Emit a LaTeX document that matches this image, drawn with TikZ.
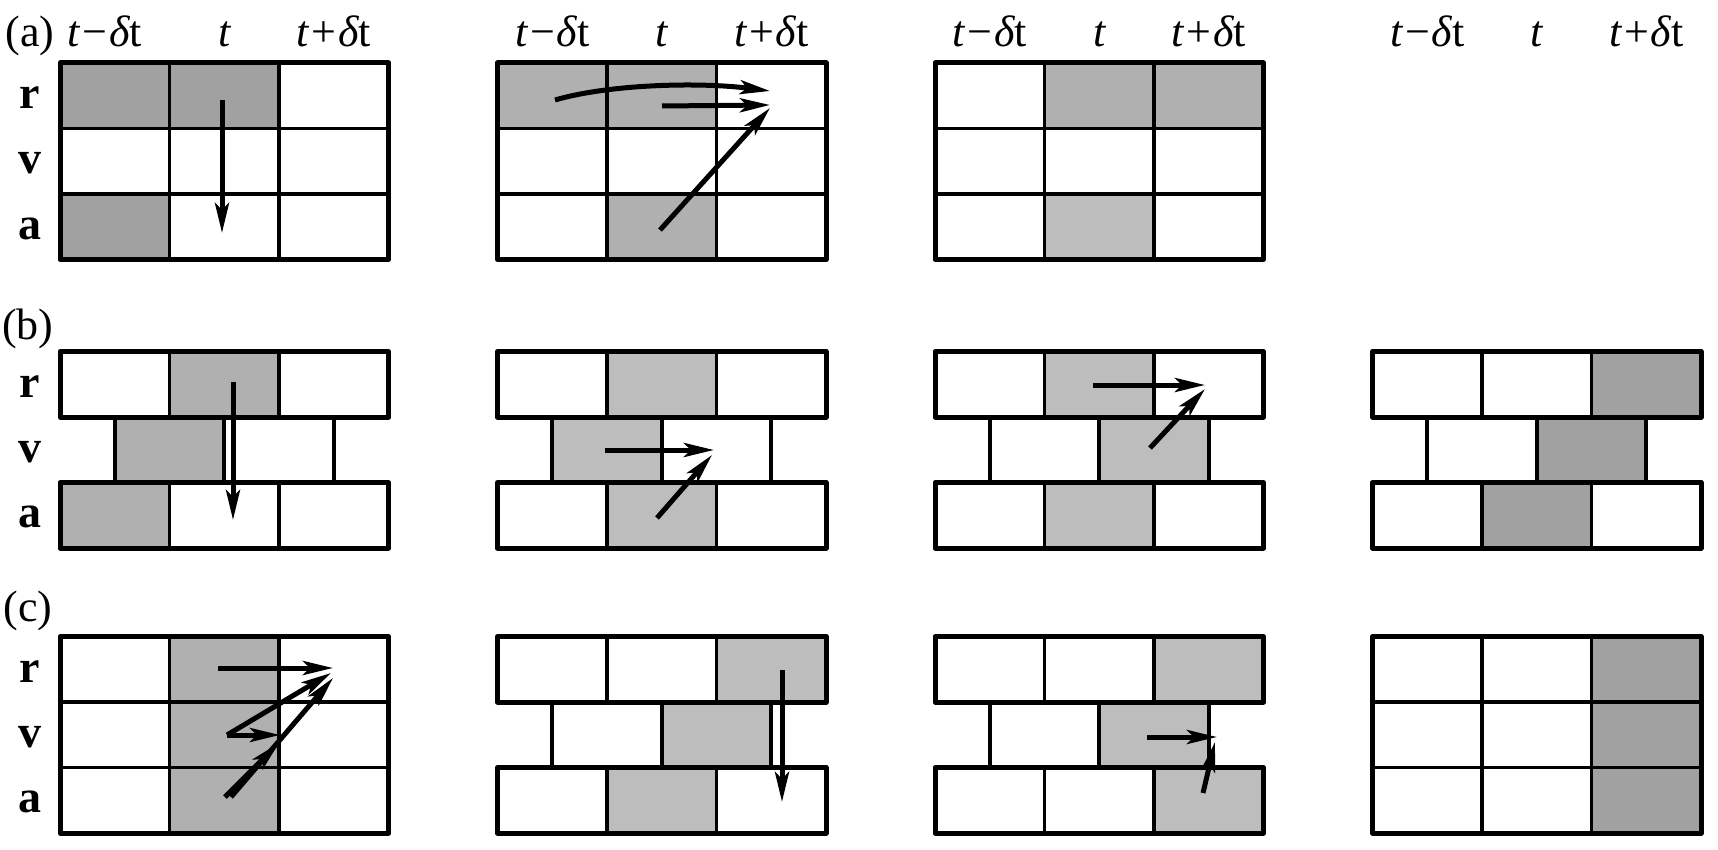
\documentclass[tikz,border=0pt]{standalone}
\usepackage{fontspec}
\setmainfont{Liberation Serif}
\usetikzlibrary{arrows.meta}
\definecolor{shadeD}{gray}{0.63}
\definecolor{shadeM}{gray}{0.69}
\definecolor{shadeL}{gray}{0.74}
\def\cellW{109.5}
\def\rowH{65.5}
\tikzset{
 gridout/.style={line width=5pt, line join=round},
 gridin/.style={line width=3.8pt},
 flow/.style={line width=5pt, -{Stealth[length=30pt,width=14pt,inset=7pt]}},
 hdr/.style={font=\fontsize{44}{50}\selectfont, anchor=base, inner sep=0pt},
 rowlab/.style={font=\fontsize{46}{50}\selectfont\bfseries, inner sep=0pt},
 panellab/.style={font=\fontsize{44}{50}\selectfont, anchor=base, inner sep=0pt},
}
\newcommand{\cellfill}[5]{\fill[#5] ({#1+#3*\cellW},{#2+#4*\rowH}) rectangle ({#1+(#3+1)*\cellW},{#2+(#4+1)*\rowH});}
\newcommand{\fullgrid}[2]{%
 \draw[gridin] ({#1+\cellW},{#2}) -- ({#1+\cellW},{#2+3*\rowH});
 \draw[gridin] ({#1+2*\cellW},{#2}) -- ({#1+2*\cellW},{#2+3*\rowH});
 \draw[gridin] ({#1},{#2+\rowH}) -- ({#1+3*\cellW},{#2+\rowH});
 \draw[gridin] ({#1},{#2+2*\rowH}) -- ({#1+3*\cellW},{#2+2*\rowH});
 \draw[gridout] ({#1},{#2}) rectangle ({#1+3*\cellW},{#2+3*\rowH});
}
\newcommand{\brickgrid}[2]{%
 \draw[gridin] ({#1+\cellW},{#2}) -- ({#1+\cellW},{#2+\rowH});
 \draw[gridin] ({#1+2*\cellW},{#2}) -- ({#1+2*\cellW},{#2+\rowH});
 \draw[gridin] ({#1+\cellW},{#2+2*\rowH}) -- ({#1+\cellW},{#2+3*\rowH});
 \draw[gridin] ({#1+2*\cellW},{#2+2*\rowH}) -- ({#1+2*\cellW},{#2+3*\rowH});
 \draw[gridin] ({#1+0.5*\cellW},{#2+\rowH}) -- ({#1+0.5*\cellW},{#2+2*\rowH});
 \draw[gridin] ({#1+1.5*\cellW},{#2+\rowH}) -- ({#1+1.5*\cellW},{#2+2*\rowH});
 \draw[gridin] ({#1+2.5*\cellW},{#2+\rowH}) -- ({#1+2.5*\cellW},{#2+2*\rowH});
 \draw[gridout] ({#1},{#2}) rectangle ({#1+3*\cellW},{#2+\rowH});
 \draw[gridout] ({#1},{#2+2*\rowH}) rectangle ({#1+3*\cellW},{#2+3*\rowH});
}
\newcommand{\tmd}{{\itshape t}\hspace{0.06em}−\hspace{0.04em}{\itshape δ}t}
\newcommand{\tpd}{{\itshape t}\hspace{0.06em}+\hspace{0.04em}{\itshape δ}t}
\begin{document}
\begin{tikzpicture}[x=1pt,y=-1pt]
\useasboundingbox (0,0) rectangle (1718,850);
\def\yA{63}\def\yB{351.5}\def\yC{636.5}
\def\xP{60}\def\xQ{497.5}\def\xR{935}\def\xS{1372.5}
% ---------- fills ----------
% (a)
\cellfill{\xP}{\yA}{0}{0}{shadeD}\cellfill{\xP}{\yA}{1}{0}{shadeD}\cellfill{\xP}{\yA}{0}{2}{shadeD}
\cellfill{\xQ}{\yA}{0}{0}{shadeM}\cellfill{\xQ}{\yA}{1}{0}{shadeM}\cellfill{\xQ}{\yA}{1}{2}{shadeM}
\cellfill{\xR}{\yA}{1}{0}{shadeM}\cellfill{\xR}{\yA}{2}{0}{shadeM}\cellfill{\xR}{\yA}{1}{2}{shadeL}
% (b)
\cellfill{\xP}{\yB}{1}{0}{shadeM}\cellfill{\xP}{\yB}{0.5}{1}{shadeM}\cellfill{\xP}{\yB}{0}{2}{shadeM}
\cellfill{\xQ}{\yB}{1}{0}{shadeL}\cellfill{\xQ}{\yB}{0.5}{1}{shadeL}\cellfill{\xQ}{\yB}{1}{2}{shadeL}
\cellfill{\xR}{\yB}{1}{0}{shadeL}\cellfill{\xR}{\yB}{1.5}{1}{shadeL}\cellfill{\xR}{\yB}{1}{2}{shadeL}
\cellfill{\xS}{\yB}{2}{0}{shadeD}\cellfill{\xS}{\yB}{1.5}{1}{shadeD}\cellfill{\xS}{\yB}{1}{2}{shadeD}
% (c)
\cellfill{\xP}{\yC}{1}{0}{shadeM}\cellfill{\xP}{\yC}{1}{1}{shadeM}\cellfill{\xP}{\yC}{1}{2}{shadeM}
\cellfill{\xQ}{\yC}{2}{0}{shadeL}\cellfill{\xQ}{\yC}{1.5}{1}{shadeL}\cellfill{\xQ}{\yC}{1}{2}{shadeL}
\cellfill{\xR}{\yC}{2}{0}{shadeL}\cellfill{\xR}{\yC}{1.5}{1}{shadeL}\cellfill{\xR}{\yC}{2}{2}{shadeL}
\cellfill{\xS}{\yC}{2}{0}{shadeD}\cellfill{\xS}{\yC}{2}{1}{shadeD}\cellfill{\xS}{\yC}{2}{2}{shadeD}
% ---------- grids ----------
\fullgrid{\xP}{\yA}\fullgrid{\xQ}{\yA}\fullgrid{\xR}{\yA}
\brickgrid{\xP}{\yB}\brickgrid{\xQ}{\yB}\brickgrid{\xR}{\yB}\brickgrid{\xS}{\yB}
\fullgrid{\xP}{\yC}\brickgrid{\xQ}{\yC}\brickgrid{\xR}{\yC}\fullgrid{\xS}{\yC}
% ---------- arrow end points ----------
\coordinate (a1s) at (222,100); \coordinate (a1e) at (222,233);
\coordinate (a2c) at (555,100); \coordinate (a2ce) at (770,91);
\coordinate (a2r) at (662,106); \coordinate (a2re) at (770,105);
\coordinate (a2a) at (660,230); \coordinate (a2ae) at (770,108);
\coordinate (b1s) at (233,382); \coordinate (b1e) at (233,520);
\coordinate (b2v) at (605,450); \coordinate (b2ve) at (714,450);
\coordinate (b2a) at (657,518); \coordinate (b2ae) at (712,455);
\coordinate (b3r) at (1093,385); \coordinate (b3re) at (1205,385);
\coordinate (b3v) at (1150,448); \coordinate (b3ve) at (1205,389);
\coordinate (c1r) at (218,668); \coordinate (c1re) at (333,668);
\coordinate (c1v) at (227,735); \coordinate (c1ve) at (331,673);
\coordinate (c1vh) at (280,735);
\coordinate (c1a) at (225,797); \coordinate (c1ah) at (279,743);
\coordinate (c1b) at (231,797); \coordinate (c1be) at (333,678);
\coordinate (c2s) at (782,670); \coordinate (c2e) at (782,802);
\coordinate (c3v) at (1147,737); \coordinate (c3ve) at (1217,737);
\coordinate (c3a) at (1203,793); \coordinate (c3ae) at (1215,742);
% ---------- arrows ----------
\draw[flow] (a1s) -- (a1e);
\draw[flow] (a2c) .. controls (610,84) and (700,82) .. (a2ce);
\draw[flow] (a2r) -- (a2re);
\draw[flow] (a2a) -- (a2ae);
\draw[flow] (b1s) -- (b1e);
\draw[flow] (b2v) -- (b2ve);
\draw[flow] (b2a) -- (b2ae);
\draw[flow] (b3r) -- (b3re);
\draw[flow] (b3v) -- (b3ve);
\draw[flow] (c1r) -- (c1re);
\draw[flow] (c1v) -- (c1ve);
\draw[flow] (c1v) -- (c1vh);
\draw[flow] (c1a) -- (c1ah);
\draw[flow] (c1b) -- (c1be);
\draw[flow] (c2s) -- (c2e);
\draw[flow] (c3v) -- (c3ve);
\draw[flow] (c3a) -- (c3ae);
% ---------- labels ----------
\node[panellab] (la) at (30,47) {(a)};
\node[panellab] (lb) at (28,339) {(b)};
\node[panellab] (lc) at (28,621) {(c)};
\foreach \yy/\nm in {\yA/A,\yB/B,\yC/C}{
 \node[rowlab] (r\nm) at (30,{\yy+0.5*\rowH+2}) {r};
 \node[rowlab] (v\nm) at (30,{\yy+1.5*\rowH+2}) {v};
 \node[rowlab] (a\nm) at (30,{\yy+2.5*\rowH+2}) {a};
}
\node[hdr] (h11) at (105,47) {\tmd};
\node[hdr] (h12) at ({\xP+1.5*\cellW},47) {\itshape t};
\node[hdr] (h13) at ({\xP+2.5*\cellW},47) {\tpd};
\foreach \xx/\nm in {\xQ/2,\xR/3,\xS/4}{
 \node[hdr] (h\nm1) at ({\xx+0.5*\cellW},47) {\tmd};
 \node[hdr] (h\nm2) at ({\xx+1.5*\cellW},47) {\itshape t};
 \node[hdr] (h\nm3) at ({\xx+2.5*\cellW},47) {\tpd};
}
\end{tikzpicture}
\end{document}
